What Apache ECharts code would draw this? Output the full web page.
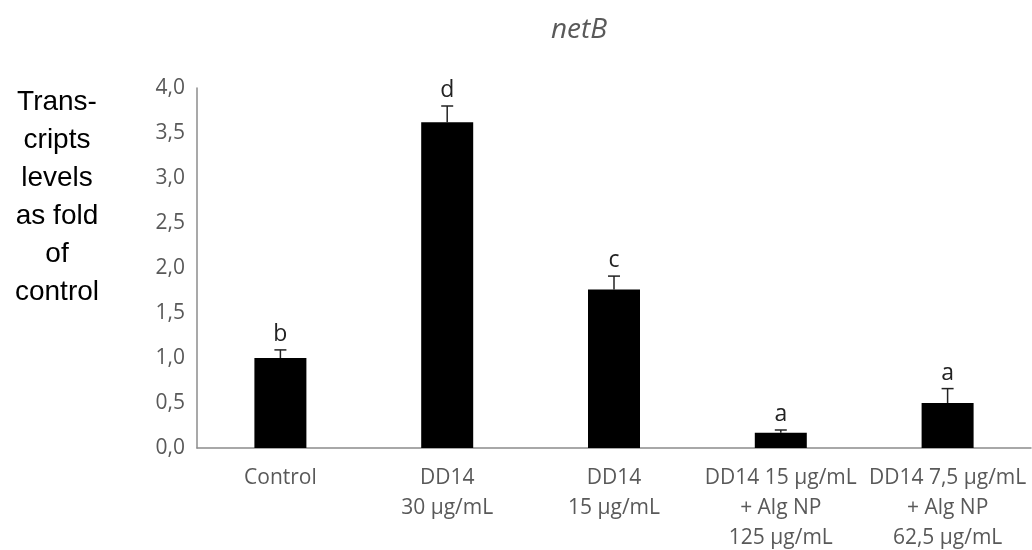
<!DOCTYPE html>
<html><head><meta charset="utf-8">
<script src="https://cdn.jsdelivr.net/npm/echarts@6/dist/echarts.min.js"></script>
<style>html,body{margin:0;padding:0;background:#fff}#c{width:1032px;height:550px}</style>
</head><body><div id="c"></div>
<script>
var categories = ['Control', 'DD14\n30 µg/mL', 'DD14\n15 µg/mL', 'DD14 15 µg/mL\n+ Alg NP\n125 µg/mL', 'DD14 7,5 µg/mL\n+ Alg NP\n62,5 µg/mL'];
var values = [1.0, 3.62, 1.76, 0.17, 0.5];
var errors = [0.09, 0.18, 0.15, 0.03, 0.16];
var letters = ['b', 'd', 'c', 'a', 'a'];
var yTicks = [0, 0.5, 1, 1.5, 2, 2.5, 3, 3.5, 4];
var yTitle = 'Trans-\ncripts\nlevels\nas fold\nof\ncontrol';

var chart = echarts.init(document.getElementById('c'));
var errData = values.map(function (v, i) { return [i, v, v + errors[i], letters[i]]; });
chart.setOption({
  animation: false,
  title: {
    text: 'netB', left: 574, top: 11, textAlign: 'center',
    textStyle: { fontFamily: 'Open Sans', fontStyle: 'italic', fontWeight: 'normal', fontSize: 28, color: '#595959' }
  },
  graphic: [{
    type: 'text', x: 57, y: 83,
    style: {
      text: yTitle,
      font: '28px "Liberation Sans", Arial, sans-serif', fill: '#000',
      align: 'center', verticalAlign: 'top', lineHeight: 38
    }
  }],
  grid: { left: 197, right: 1, top: 88, bottom: 102, containLabel: false, outerBoundsMode: 'none' },
  xAxis: {
    type: 'category', data: categories,
    axisLine: { lineStyle: { color: '#8c8c8c', width: 1.5 } },
    axisTick: { show: false },
    axisLabel: { color: '#595959', fontSize: 21, fontFamily: 'Open Sans', lineHeight: 30, margin: 15, interval: 0 }
  },
  yAxis: {
    type: 'value', min: 0, max: 4, interval: 0.5,
    axisLine: { show: true, lineStyle: { color: '#8c8c8c', width: 1.5 } },
    axisTick: { show: false },
    splitLine: { show: false },
    axisLabel: {
      color: '#595959', fontSize: 21, fontFamily: 'Open Sans', margin: 12,
      formatter: function (v) { return v.toFixed(1).replace('.', ','); }
    }
  },
  series: [{
    type: 'bar', data: values, barWidth: 52,
    itemStyle: { color: '#000' }
  }, {
    type: 'custom', data: errData,
    renderItem: function (params, api) {
      var x = api.value(0);
      var p0 = api.coord([x, api.value(1)]);
      var p1 = api.coord([x, api.value(2)]);
      var cw = 6;
      return {
        type: 'group', children: [
          { type: 'line', shape: { x1: p0[0], y1: p0[1], x2: p1[0], y2: p1[1] }, style: { stroke: '#222', lineWidth: 1.5 } },
          { type: 'line', shape: { x1: p1[0] - cw, y1: p1[1], x2: p1[0] + cw, y2: p1[1] }, style: { stroke: '#222', lineWidth: 1.5 } },
          { type: 'text', x: p1[0], y: p1[1] - 4, style: { text: api.value(3), textAlign: 'center', textVerticalAlign: 'bottom', font: '23px "Open Sans"', fill: '#222' } }
        ]
      };
    }
  }]
});
</script></body></html>
